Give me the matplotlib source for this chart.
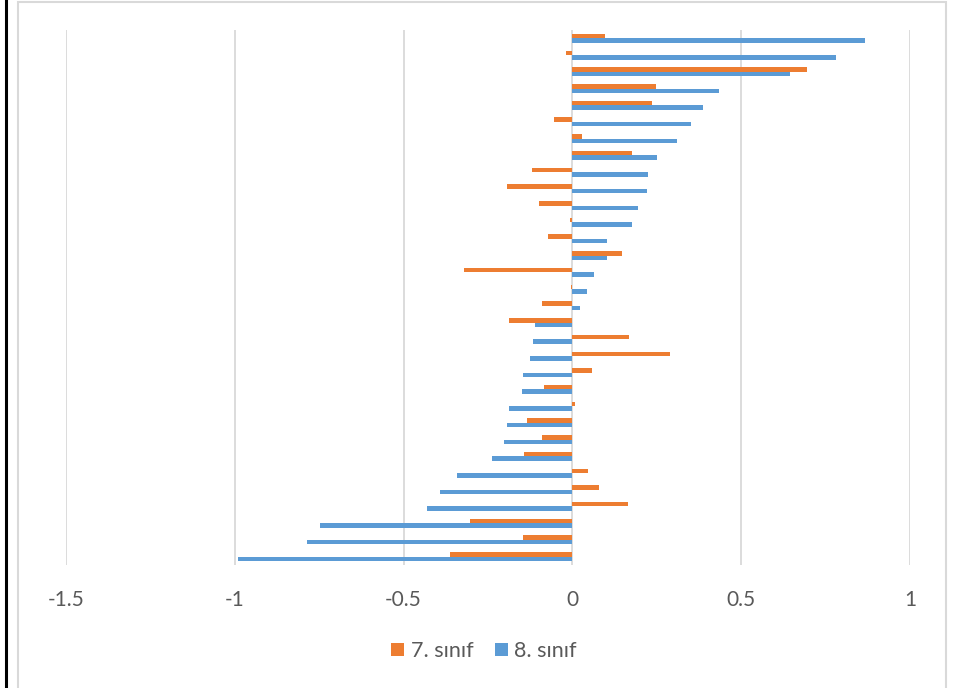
import matplotlib.pyplot as plt
import numpy as np
from matplotlib.lines import Line2D
from matplotlib.patches import Rectangle

plt.rcParams['font.family'] = ['Lato', 'DejaVu Sans']

# 32 madde, yukarıdan aşağıya sıralı
sinif7 = [0.096, -0.020, 0.696, 0.247, 0.236, -0.054, 0.029, 0.177,
          -0.119, -0.194, -0.100, -0.006, -0.071, 0.147, -0.320, -0.003,
          -0.091, -0.188, 0.168, 0.289, 0.058, -0.083, 0.007, -0.134,
          -0.091, -0.143, 0.047, 0.078, 0.166, -0.304, -0.147, -0.363]
sinif8 = [0.868, 0.782, 0.646, 0.434, 0.387, 0.352, 0.310, 0.250,
          0.224, 0.221, 0.193, 0.177, 0.102, 0.102, 0.063, 0.042,
          0.023, -0.111, -0.118, -0.126, -0.145, -0.150, -0.189, -0.194,
          -0.204, -0.239, -0.341, -0.392, -0.430, -0.747, -0.787, -0.992]
x_ticks = [-1.5, -1, -0.5, 0, 0.5, 1]
x_labels = ['-1.5', '-1', '-0.5', '0', '0.5', '1']

ORANGE = '#ED7D31'
BLUE = '#5B9BD5'
GRID = '#D9D9D9'
TEXT = '#595959'

W, H = 954, 688
fig = plt.figure(figsize=(W / 100, H / 100), dpi=100)

# çerçeveler
fig.patches.append(Rectangle((18 / W, -0.01), (946 - 18) / W, 1 - 1.5 / H + 0.01,
                             transform=fig.transFigure, fill=False,
                             edgecolor='#D9D9D9', linewidth=1.5))
fig.lines.append(Line2D([6 / W, 6 / W], [0, 1], transform=fig.transFigure,
                        color='black', linewidth=2.2))

ax = fig.add_axes([66 / W, 1 - 565 / H, (910 - 66) / W, (565 - 30) / H])

y = np.arange(len(sinif8))
h = 0.27
ax.barh(y - h / 2, sinif7, height=h, color=ORANGE, label='7. sınıf', zorder=3)
ax.barh(y + h / 2, sinif8, height=h, color=BLUE, label='8. sınıf', zorder=3)

ax.set_xlim(-1.5, 1)
ax.set_ylim(len(y) - 0.5, -0.5)
ax.set_xticks(x_ticks)
ax.set_xticklabels(x_labels)
ax.set_yticks([])
ax.tick_params(axis='x', length=0, pad=18, labelsize=15, labelcolor=TEXT)
ax.grid(axis='x', color=GRID, linewidth=1.3, zorder=0)
for s in ax.spines.values():
    s.set_visible(False)

fig.legend(loc='center', bbox_to_anchor=(484 / W, 1 - 651 / H), ncol=2,
           frameon=False, fontsize=15.5, labelcolor=TEXT,
           handlelength=0.6, handleheight=0.6, handletextpad=0.3,
           columnspacing=1.0)

fig.savefig('out.png', dpi=100)
